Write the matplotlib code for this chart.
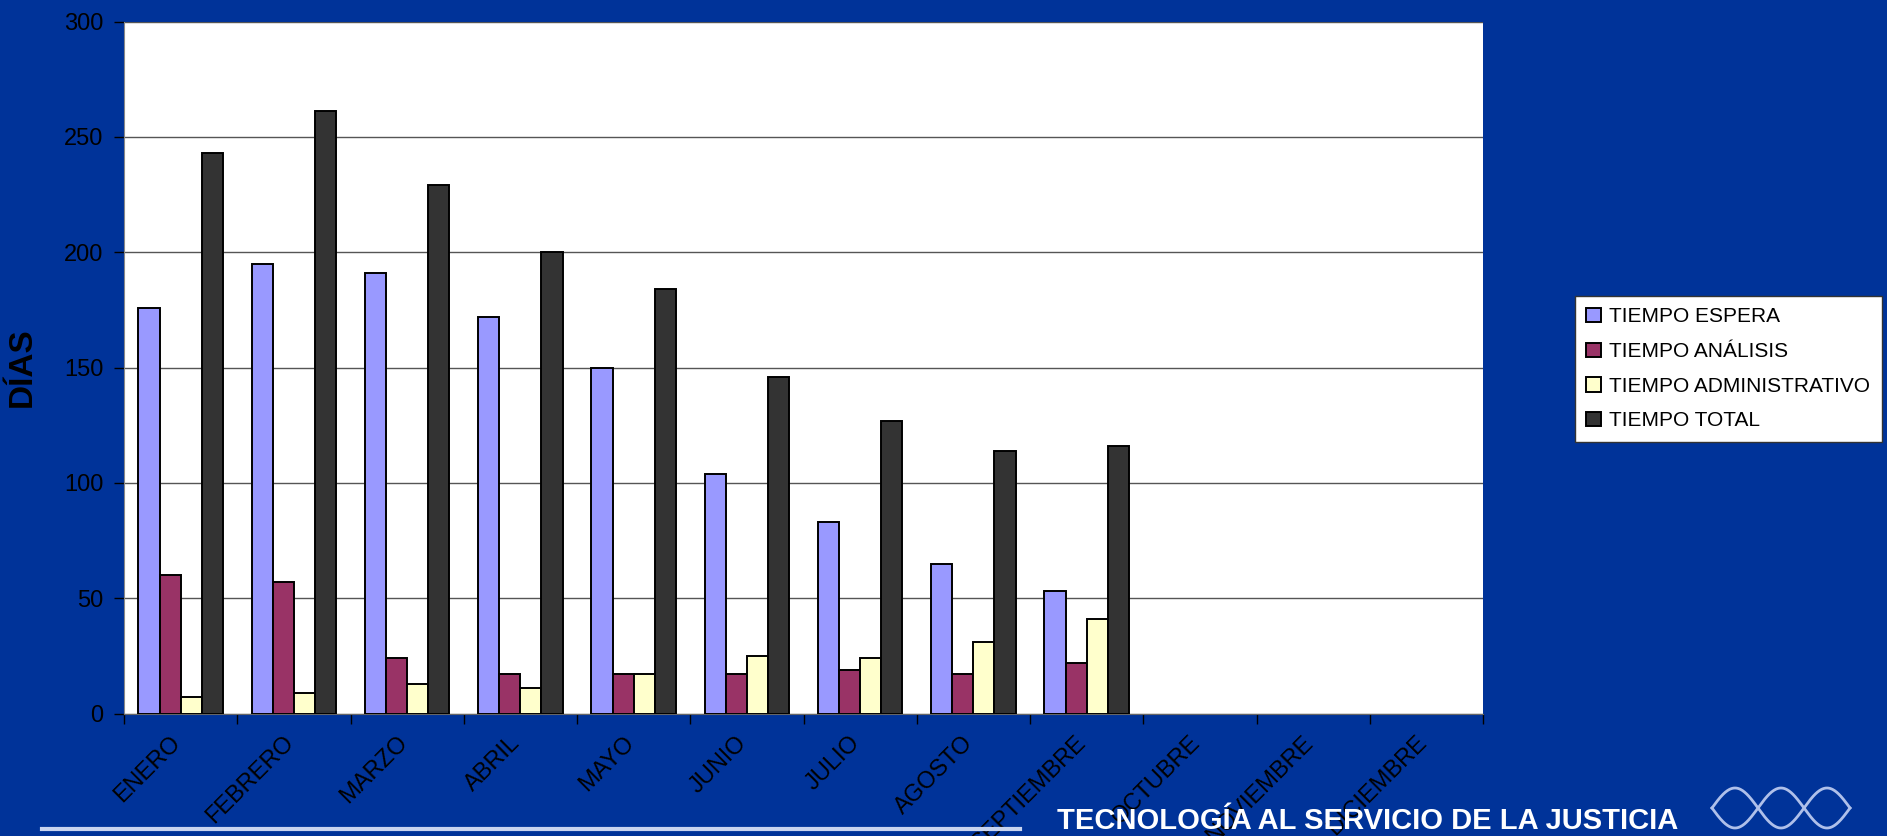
import numpy as np
import matplotlib
matplotlib.use("Agg")
import matplotlib.pyplot as plt
from matplotlib.transforms import ScaledTranslation

plt.rcParams['font.family'] = ['Liberation Sans', 'DejaVu Sans']

# data (dias por mes)
meses = ['ENERO', 'FEBRERO', 'MARZO', 'ABRIL', 'MAYO', 'JUNIO', 'JULIO',
         'AGOSTO', 'SEPTIEMBRE', 'OCTUBRE', 'NOVIEMBRE', 'DICIEMBRE']
tiempo_espera = [176, 195, 191, 172, 150, 104, 83, 65, 53, 0, 0, 0]
tiempo_analisis = [60, 57, 24, 17, 17, 17, 19, 17, 22, 0, 0, 0]
tiempo_admin = [7, 9, 13, 11, 17, 25, 24, 31, 41, 0, 0, 0]
tiempo_total = [243, 261, 229, 200, 184, 146, 127, 114, 116, 0, 0, 0]

series = [('TIEMPO ESPERA', tiempo_espera, '#9999FF'),
          ('TIEMPO ANÁLISIS', tiempo_analisis, '#993366'),
          ('TIEMPO ADMINISTRATIVO', tiempo_admin, '#FFFFCC'),
          ('TIEMPO TOTAL', tiempo_total, '#333333')]

bg = '#003399'
W, H = 1887, 836
fig = plt.figure(figsize=(W / 100, H / 100), dpi=100, facecolor=bg)
ax = fig.add_axes([124 / W, 1 - 713.5 / H, (1483 - 124) / W, (713.5 - 21.5) / H])
ax.set_facecolor('white')

x = np.arange(len(meses))
bw = 0.186
for i, (name, vals, col) in enumerate(series):
    lw = [1.4 if v > 0 else 0 for v in vals]
    ax.bar(x + (i - 1.5) * bw, vals, bw, color=col, edgecolor='black',
           linewidth=lw, label=name, zorder=3)

ax.set_xlim(-0.5, len(meses) - 0.5)
ax.set_ylim(0, 300)
ax.set_yticks(range(0, 301, 50))
ax.yaxis.grid(True, color='#555555', linewidth=1, zorder=0)
ax.tick_params(axis='y', labelsize=17, length=7, width=1, color='black', pad=8)

ax.set_xticks(np.arange(-0.5, len(meses), 1.0))
ax.set_xticklabels([])
ax.tick_params(axis='x', which='major', length=7, width=1, direction='out')
ax.set_xticks(x, minor=True)
ax.set_xticklabels(meses, minor=True, rotation=45, ha='right', va='top',
                   rotation_mode='anchor', fontsize=17)
ax.tick_params(axis='x', which='minor', length=0, pad=13)
shift = ScaledTranslation(-0.11, 0, fig.dpi_scale_trans)
for lab in ax.get_xticklabels(minor=True):
    lab.set_transform(lab.get_transform() + shift)

for s in ['top', 'right']:
    ax.spines[s].set_visible(False)
ax.spines['left'].set_color('#888888')
ax.spines['bottom'].set_color('#666666')

ax.set_ylabel('DÍAS', fontsize=24, fontweight='bold', labelpad=0)
ax.yaxis.set_label_coords(-86 / (1483 - 124), 0.5)

leg = ax.legend(loc='upper left', bbox_to_anchor=(1575 / W, 1 - 296 / H),
                bbox_transform=fig.transFigure, fontsize=15, frameon=True,
                fancybox=False, edgecolor='#333333', framealpha=1,
                handlelength=0.7, handleheight=0.7, handletextpad=0.4,
                labelspacing=0.75, borderpad=0.55, borderaxespad=0)
leg.get_frame().set_linewidth(1)

# footer
fig.add_artist(plt.Line2D([42 / W, 1020 / W], [1 - 829 / H, 1 - 829 / H],
                          color='#C8D4F0', linewidth=3))
fig.text(1057 / W, 1 - 829 / H, 'TECNOLOGÍA AL SERVICIO DE LA JUSTICIA',
         color='white', fontsize=21, fontweight='bold', ha='left', va='baseline',
         zorder=0)

# small logo strands
lx = np.linspace(1712, 1850, 200)
for ph in (0, np.pi):
    ly = 808 + 20 * np.sin((lx - 1712) / 138 * 3 * np.pi + ph)
    fig.add_artist(plt.Line2D(lx / W, 1 - ly / H, color='#AFC0EA', linewidth=2))

fig.savefig('out.png', dpi=100, facecolor=bg)
